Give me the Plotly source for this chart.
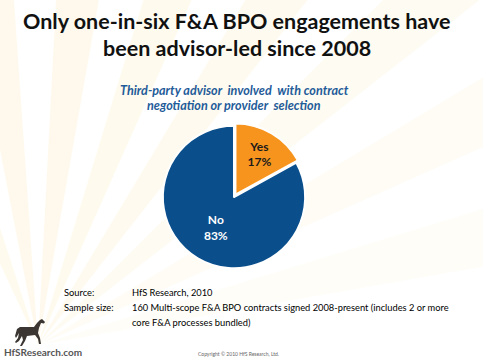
import math
import plotly.graph_objects as go

labels = ["Yes", "No"]
values = [17, 83]
colors = ["#F7941D", "#0A4F8C"]
text_colors = ["#1a1a1a", "#ffffff"]

W, H = 483, 360

fig = go.Figure()

fig.add_trace(go.Pie(
    labels=labels, values=values, sort=False, direction="clockwise", rotation=0,
    marker=dict(colors=colors, line=dict(color="white", width=2)),
    pull=[0.04, 0],
    texttemplate="%{label}<br>%{percent:.0%}",
    textposition="inside", insidetextorientation="horizontal",
    textfont=dict(family="Lato", size=12, color=text_colors, weight="bold"),
    showlegend=False, hoverinfo="label+percent",
    domain=dict(x=[160/W, 308/W], y=[1-272/H, 1-122/H]),
))

def px_path(pts):
    return "M " + " L ".join(f"{x/W:.4f},{1-y/H:.4f}" for x, y in pts) + " Z"

# faint sunburst rays from bottom-left
shapes = []
ox, oy = 38, 345
for a0, op in [(10, 0.05), (24, 0.07), (38, 0.09), (52, 0.11), (66, 0.12), (80, 0.13), (94, 0.13), (108, 0.12)]:
    a1 = a0 + 7
    L = 700
    pts = [(ox, oy)]
    for a in (a0, a1):
        r = math.radians(a)
        pts.append((ox + L*math.cos(r), oy - L*math.sin(r)))
    shapes.append(dict(type="path", xref="paper", yref="paper", path=px_path(pts),
                       fillcolor=f"rgba(245,210,110,{op})", line=dict(width=0), layer="below"))

# horse logo silhouette
horse = [(17, 329), (20, 327), (26, 327), (34, 327), (37, 323), (40, 320), (42, 319), (45, 322),
         (44, 323.5), (41, 323), (39, 328), (38, 333), (40, 338), (41, 344), (39, 344), (38, 339),
         (35, 335), (27, 336), (25, 341), (22, 346), (20, 346), (23, 340), (22, 336), (19, 341),
         (16, 343), (15, 342), (18, 338), (19, 333), (16, 338), (15, 336)]
shapes.append(dict(type="path", xref="paper", yref="paper", path=px_path(horse),
                   fillcolor="#3b3631", line=dict(width=0)))

ann = []
def txt(x, y, s, size, color="#111", anchor="left", weight="normal", style="normal"):
    ann.append(dict(x=x/W, y=1-y/H, xref="paper", yref="paper", text=s,
                    showarrow=False, xanchor=anchor, yanchor="middle",
                    font=dict(family="Lato", size=size, color=color, weight=weight, style=style)))

txt(237, 21, "Only one-in-six F&A BPO engagements have", 21.5, "#111", "center", "bold")
txt(237, 48, "been advisor-led since 2008", 21.5, "#111", "center", "bold")
txt(234, 90, "Third-party advisor  involved  with contract", 12.6, "#1F5C99", "center", "bold", "italic")
txt(234, 105, "negotiation or provider  selection", 12.6, "#1F5C99", "center", "bold", "italic")
txt(62, 292, "Source:", 9.3, "#000")
txt(130, 292, "HfS Research, 2010", 9.3, "#000")
txt(62, 307, "Sample size:", 9.3, "#000")
txt(130, 307, "160 Multi-scope F&A BPO contracts signed 2008-present (includes 2 or more", 9.3, "#000")
txt(130, 322, "core F&A processes bundled)", 9.3, "#000")
txt(2, 352, "HfSResearch.com", 10, "#555", weight="bold")
txt(238, 354, "Copyright © 2010 HfS Research, Ltd.", 5, "#666", "center")

fig.update_layout(width=W, height=H, margin=dict(l=0, r=0, t=0, b=0),
                  paper_bgcolor="white", plot_bgcolor="white",
                  shapes=shapes, annotations=ann)

fig.write_html("out.html", config={"displayModeBar": False},
               post_script="document.body.style.margin='0';document.body.style.overflow='hidden';")
